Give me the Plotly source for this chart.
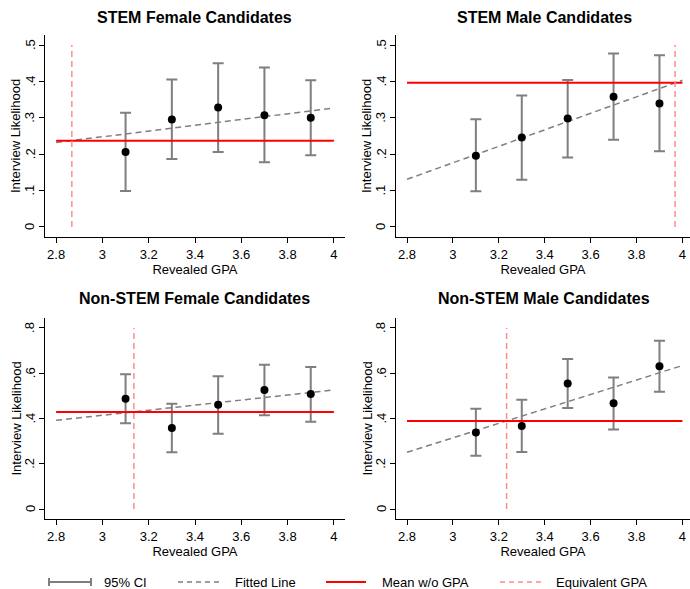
import plotly.graph_objects as go

W, H = 690, 589

# Binned GPA values shown in every panel
gpa = [3.1, 3.3, 3.5, 3.7, 3.9]

titles = ["STEM Female Candidates", "STEM Male Candidates",
          "Non-STEM Female Candidates", "Non-STEM Male Candidates"]

# Point estimates and 95% CI bounds per panel
est = [
    [0.206, 0.295, 0.328, 0.307, 0.300],
    [0.196, 0.246, 0.298, 0.358, 0.339],
    [0.487, 0.358, 0.461, 0.526, 0.508],
    [0.338, 0.367, 0.555, 0.467, 0.631],
]
ci_lo = [
    [0.099, 0.187, 0.206, 0.178, 0.197],
    [0.098, 0.130, 0.191, 0.240, 0.208],
    [0.379, 0.251, 0.333, 0.414, 0.386],
    [0.235, 0.252, 0.446, 0.351, 0.518],
]
ci_hi = [
    [0.314, 0.405, 0.450, 0.438, 0.403],
    [0.296, 0.361, 0.404, 0.477, 0.472],
    [0.596, 0.465, 0.587, 0.637, 0.628],
    [0.443, 0.483, 0.663, 0.581, 0.744],
]

# Fitted line values at GPA 2.8 and 4.0
fit_x = [2.8, 4.0]
fit_y = [
    [0.232, 0.327],
    [0.131, 0.403],
    [0.392, 0.526],
    [0.251, 0.634],
]

# Mean interview likelihood without GPA
mean_no_gpa = [0.237, 0.396, 0.429, 0.389]

# GPA at which the fitted line equals the mean without GPA
equiv_gpa = [2.868, 3.968, 3.136, 3.234]

# Y tick values / labels
yticks_top = [0, 0.1, 0.2, 0.3, 0.4, 0.5]
ylabels_top = ["0", ".1", ".2", ".3", ".4", ".5"]
yticks_bot = [0, 0.2, 0.4, 0.6, 0.8]
ylabels_bot = ["0", ".2", ".4", ".6", ".8"]
xticks = [2.8, 3.0, 3.2, 3.4, 3.6, 3.8, 4.0]
xlabels = ["2.8", "3", "3.2", "3.4", "3.6", "3.8", "4"]

GRAY = "#7f7f7f"
RED = "#ff0000"
PINK = "#ff8c8c"
FONT = "Liberation Sans, Arial, Helvetica, sans-serif"


def px_x(p):
    return p / W


def px_y(p):
    return 1 - p / H


# panel domains in pixels: (left, right, top, bottom)
panels = [
    (45, 345, 35, 237),
    (396, 690, 35, 237),
    (45, 345, 318, 519),
    (396, 690, 318, 519),
]
title_cx = [195, 544, 195, 544]

fig = go.Figure()
layout = dict(
    width=W, height=H,
    margin=dict(l=0, r=0, t=0, b=0),
    paper_bgcolor="white", plot_bgcolor="white",
    showlegend=False,
    font=dict(family=FONT, color="black", size=13),
)

annotations = []
shapes = []

for i in range(4):
    k = "" if i == 0 else str(i + 1)
    xa, ya = "x" + k, "y" + k
    left, right, top, bot = panels[i]
    top_row = i < 2
    ytv = yticks_top if top_row else yticks_bot
    ytt = ylabels_top if top_row else ylabels_bot
    ymax = ytv[-1]
    yrange = [-0.055 * ymax, ymax * 1.055]
    xr_right = 4.048 if left < 100 else 4.033

    layout["xaxis" + k] = dict(
        domain=[px_x(left), px_x(right)], anchor=ya,
        range=[2.752, xr_right],
        tickvals=xticks, ticktext=xlabels,
        ticks="outside", ticklen=5, tickcolor="black",
        showline=True, linecolor="black", linewidth=1,
        showgrid=False, zeroline=False,
        tickfont=dict(size=13),
        title=dict(text="Revealed GPA", font=dict(size=13), standoff=2),
    )
    layout["yaxis" + k] = dict(
        domain=[px_y(bot), px_y(top)], anchor=xa,
        range=yrange,
        tickvals=ytv, showticklabels=False,
        ticks="outside", ticklen=5, tickcolor="black",
        showline=True, linecolor="black", linewidth=1,
        showgrid=False, zeroline=False,
    )

    # rotated y tick labels
    for v, t in zip(ytv, ytt):
        annotations.append(dict(
            text=t, xref="paper", yref=ya, x=px_x(left - 15), y=v,
            textangle=-90, xanchor="center", yanchor="middle",
            showarrow=False, font=dict(size=13, color="black"),
        ))

    # y axis title
    annotations.append(dict(
        text="Interview Likelihood", xref="paper", yref="paper",
        x=px_x(left - 29), y=px_y((top + bot) / 2), textangle=-90,
        xanchor="center", yanchor="middle", showarrow=False,
        font=dict(size=13, color="black"),
    ))

    lo_err = [e - l for e, l in zip(est[i], ci_lo[i])]
    hi_err = [h - e for e, h in zip(est[i], ci_hi[i])]

    # confidence intervals (drawn first, beneath the lines)
    fig.add_trace(go.Scatter(
        x=gpa, y=est[i], mode="markers", xaxis=xa, yaxis=ya,
        marker=dict(size=1, color="rgba(0,0,0,0)"),
        error_y=dict(type="data", symmetric=False, array=hi_err,
                     arrayminus=lo_err, color=GRAY, thickness=2, width=5.5),
        hoverinfo="skip",
    ))
    # fitted line
    fig.add_trace(go.Scatter(
        x=fit_x, y=fit_y[i], mode="lines", xaxis=xa, yaxis=ya,
        line=dict(color=GRAY, width=1.5, dash="6px,4px"),
    ))
    # mean without GPA
    fig.add_trace(go.Scatter(
        x=fit_x, y=[mean_no_gpa[i]] * 2, mode="lines", xaxis=xa, yaxis=ya,
        line=dict(color=RED, width=2),
    ))
    # equivalent GPA
    fig.add_trace(go.Scatter(
        x=[equiv_gpa[i]] * 2, y=[0, ymax], mode="lines", xaxis=xa, yaxis=ya,
        line=dict(color=PINK, width=1.5, dash="6px,4px"),
    ))
    # point estimates
    fig.add_trace(go.Scatter(
        x=gpa, y=est[i], mode="markers", xaxis=xa, yaxis=ya,
        marker=dict(size=8, color="black"),
    ))

    annotations.append(dict(
        text="<b>" + titles[i] + "</b>", xref="paper", yref="paper",
        x=px_x(title_cx[i]), y=px_y(17 if top_row else 298),
        xanchor="center", yanchor="middle", showarrow=False,
        font=dict(size=16, color="black"),
    ))

# legend row
ly = 582
leg_font = dict(size=13, color="black")
# 95% CI symbol
shapes.append(dict(type="line", xref="paper", yref="paper",
                   x0=px_x(49), x1=px_x(91), y0=px_y(ly), y1=px_y(ly),
                   line=dict(color=GRAY, width=2)))
for xe in (49, 91):
    shapes.append(dict(type="line", xref="paper", yref="paper",
                       x0=px_x(xe), x1=px_x(xe), y0=px_y(ly - 4), y1=px_y(ly + 4),
                       line=dict(color=GRAY, width=2)))
shapes.append(dict(type="line", xref="paper", yref="paper",
                   x0=px_x(178), x1=px_x(219), y0=px_y(ly), y1=px_y(ly),
                   line=dict(color=GRAY, width=1.5, dash="5px,4px")))
shapes.append(dict(type="line", xref="paper", yref="paper",
                   x0=px_x(326), x1=px_x(366), y0=px_y(ly), y1=px_y(ly),
                   line=dict(color=RED, width=2)))
shapes.append(dict(type="line", xref="paper", yref="paper",
                   x0=px_x(500), x1=px_x(541), y0=px_y(ly), y1=px_y(ly),
                   line=dict(color=PINK, width=1.5, dash="5px,4px")))
for txt, xt in (("95% CI", 102), ("Fitted Line", 233),
                ("Mean w/o GPA", 380), ("Equivalent GPA", 554)):
    annotations.append(dict(text=txt, xref="paper", yref="paper",
                            x=px_x(xt), y=px_y(ly), xanchor="left",
                            yanchor="middle", showarrow=False, font=leg_font))

layout["annotations"] = annotations
layout["shapes"] = shapes
fig.update_layout(**layout)
fig.write_html("out.html")
